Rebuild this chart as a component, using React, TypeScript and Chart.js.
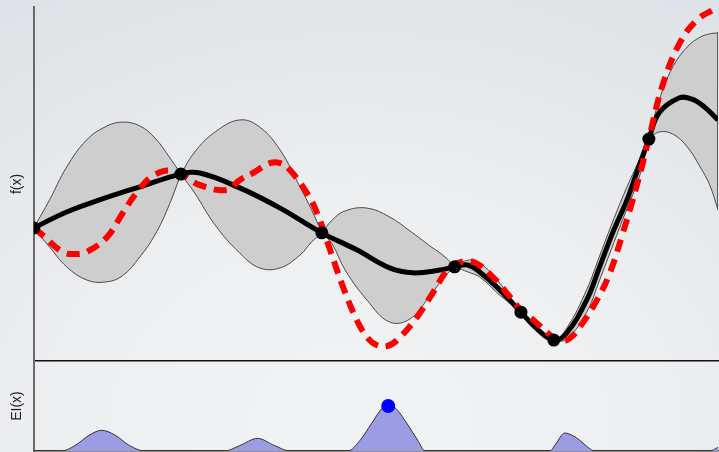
import React, { useEffect, useRef } from "react";
import { Chart, registerables } from "chart.js";

Chart.register(...registerables);

// Observations (black dots)
const obsX = [0, 2.15, 4.21, 6.15, 7.12, 7.6, 8.99];
const obsY = [3.76, 5.28, 3.62, 2.66, 1.38, 0.59, 6.27];

// GP posterior mean
const meanX = [0, 0.48, 0.96, 1.55, 2.15, 2.43, 3.01, 3.6, 4.21, 4.72, 5.2, 5.54, 5.94, 6.15, 6.34, 6.52, 6.81, 7.12, 7.37, 7.6, 7.79, 8.08, 8.27, 8.46, 8.67, 8.81, 8.99, 9.14, 9.43, 9.62, 9.8, 10];
const meanY = [3.76, 4.21, 4.55, 4.92, 5.28, 5.31, 4.89, 4.32, 3.62, 3.14, 2.63, 2.49, 2.57, 2.66, 2.71, 2.51, 2.01, 1.38, 0.88, 0.59, 0.79, 1.72, 2.66, 3.62, 4.55, 5.31, 6.27, 7.01, 7.43, 7.4, 7.18, 6.81];

// Confidence band
const bandX = [0, 0.23, 0.48, 0.77, 1.04, 1.29, 1.55, 1.77, 1.96, 2.15, 2.15, 2.35, 2.65, 3.01, 3.3, 3.6, 3.89, 4.06, 4.21, 4.21, 4.36, 4.55, 4.87, 5.2, 5.5, 5.79, 6.01, 6.15, 6.15, 6.35, 6.52, 6.81, 7.12, 7.37, 7.6, 7.79, 8.08, 8.27, 8.46, 8.65, 8.85, 8.99, 8.99, 9.14, 9.34, 9.55, 9.74, 9.88, 10];
const upperY = [3.76, 4.55, 5.48, 6.24, 6.61, 6.75, 6.64, 6.3, 5.82, 5.28, 5.28, 5.9, 6.47, 6.81, 6.61, 5.96, 4.92, 4.27, 3.62, 3.62, 3.98, 4.24, 4.32, 4.07, 3.67, 3.25, 2.94, 2.66, 2.66, 2.85, 2.77, 2.2, 1.38, 0.93, 0.59, 0.93, 2.01, 2.97, 3.93, 4.83, 5.68, 6.27, 6.27, 7.37, 8.31, 8.87, 9.15, 9.24, 9.27];
const lowerY = [3.76, 3.22, 2.66, 2.29, 2.23, 2.4, 2.94, 3.56, 4.32, 5.28, 5.28, 4.75, 3.84, 3.05, 2.63, 2.63, 2.99, 3.36, 3.62, 3.62, 3.31, 2.57, 1.72, 1.1, 1.19, 1.84, 2.4, 2.66, 2.66, 2.51, 2.37, 1.86, 1.38, 0.82, 0.59, 0.62, 1.38, 2.29, 3.25, 4.21, 5.2, 6.27, 6.27, 6.47, 6.41, 6.05, 5.48, 4.97, 4.27];

// True objective (red dashed)
const trueX = [0, 0.09, 0.42, 0.6, 0.77, 1.07, 1.3, 1.51, 1.74, 2.03, 2.43, 2.82, 3.01, 3.2, 3.45, 3.6, 3.74, 3.99, 4.14, 4.33, 4.52, 4.72, 4.88, 5.01, 5.16, 5.31, 5.6, 5.83, 6.04, 6.15, 6.42, 6.71, 6.96, 7.12, 7.3, 7.6, 7.72, 7.84, 7.98, 8.23, 8.42, 8.61, 8.74, 8.9, 9.01, 9.2, 9.44, 9.69, 9.93, 10];
const trueY = [3.76, 3.62, 3.08, 3.02, 3.08, 3.5, 4.18, 4.77, 5.23, 5.37, 4.97, 4.83, 5.11, 5.31, 5.59, 5.59, 5.4, 4.75, 4.18, 3.14, 2.09, 1.16, 0.65, 0.45, 0.42, 0.59, 1.24, 1.92, 2.57, 2.74, 2.8, 2.37, 1.81, 1.44, 1.16, 0.65, 0.56, 0.65, 0.96, 1.72, 2.49, 3.62, 4.46, 5.59, 6.45, 7.85, 8.98, 9.63, 9.92, 9.97];

// Expected improvement
const eiX = [0, 0.41, 0.6, 0.82, 0.99, 1.18, 1.4, 1.62, 2.79, 3.01, 3.27, 3.52, 3.74, 4.59, 4.77, 4.94, 5.1, 5.18, 5.28, 5.45, 5.61, 5.72, 7.54, 7.63, 7.76, 7.88, 7.98, 8.1, 8.2, 9.88, 10];
const eiY = [0, 0, 0.06, 0.18, 0.23, 0.18, 0.06, 0, 0, 0.06, 0.14, 0.06, 0, 0, 0.12, 0.31, 0.48, 0.5, 0.48, 0.31, 0.12, 0, 0, 0.08, 0.2, 0.17, 0.12, 0.04, 0, 0, 0.04];
const nextX = [5.18];
const nextY = [0.5];

const xy = (xs: number[], ys: number[]) => xs.map((x, i) => ({ x, y: ys[i] }));

const FONT = { family: "'Liberation Sans', Arial, Helvetica, sans-serif", size: 14 };

function yScale(max: number, label: string) {
  return {
    type: "linear" as const,
    min: 0,
    max,
    ticks: { display: false },
    grid: { display: false, drawTicks: false },
    border: { display: true, color: "#6a6a6a", width: 2 },
    title: { display: true, text: label, color: "#222", font: FONT, padding: { top: 4, bottom: 8 } },
  };
}

function xScale(color: string, width: number) {
  return {
    type: "linear" as const,
    min: 0,
    max: 10,
    ticks: { display: false },
    grid: { display: false, drawTicks: false },
    border: { display: true, color, width },
  };
}

export default function App() {
  const topRef = useRef<HTMLCanvasElement>(null);
  const botRef = useRef<HTMLCanvasElement>(null);

  useEffect(() => {
    const common = {
      responsive: false,
      animation: false as const,
      events: [] as any[],
      plugins: { legend: { display: false }, tooltip: { enabled: false } },
    };
    const top = new Chart(topRef.current!, {
      type: "line",
      data: {
        datasets: [
          { data: xy(obsX, obsY), showLine: false, pointRadius: 6.5, pointBackgroundColor: "#000", pointBorderWidth: 0, order: 0 },
          { data: xy(trueX, trueY), borderColor: "#ff0000", borderWidth: 6, borderDash: [13, 8], pointRadius: 0, tension: 0.4, fill: false, order: 1 },
          { data: xy(meanX, meanY), borderColor: "#000", borderWidth: 5, pointRadius: 0, tension: 0.4, fill: false, order: 2 },
          { data: xy(bandX, upperY), borderColor: "#4a4a4a", borderWidth: 1, pointRadius: 0, tension: 0.4, fill: "+1", backgroundColor: "#cecece", order: 5 },
          { data: xy(bandX, lowerY), borderColor: "#4a4a4a", borderWidth: 1, pointRadius: 0, tension: 0.4, fill: false, order: 4 },
          { data: [{ x: 10, y: upperY[upperY.length - 1] }, { x: 10, y: lowerY[lowerY.length - 1] }], borderColor: "#4a4a4a", borderWidth: 1, pointRadius: 0, fill: false, order: 3 },
        ],
      },
      options: {
        ...common,
        layout: { autoPadding: false, padding: { left: 5, top: 7, right: 1, bottom: 2 } },
        scales: { x: xScale("#111", 1.5), y: yScale(10, "f(x)") },
      } as any,
    });
    const bot = new Chart(botRef.current!, {
      type: "line",
      data: {
        datasets: [
          { data: xy(nextX, nextY), showLine: false, pointRadius: 7, pointBackgroundColor: "#0000ff", pointBorderWidth: 0, order: 0 },
          { data: xy(eiX, eiY), borderColor: "#333", borderWidth: 1, pointRadius: 0, cubicInterpolationMode: "monotone", fill: "origin", backgroundColor: "#9c9ce4", order: 1 },
        ],
      },
      options: {
        ...common,
        layout: { autoPadding: false, padding: { left: 5, top: 6, right: 1, bottom: 1 } },
        scales: { x: xScale("#333", 1.5), y: yScale(1, "EI(x)") },
      } as any,
    });
    return () => {
      top.destroy();
      bot.destroy();
    };
  }, []);

  return (
    <div
      style={{
        position: "fixed",
        left: 0,
        top: 0,
        width: 719,
        height: 452,
        overflow: "hidden",
        background: "radial-gradient(ellipse 90% 110% at 50% 95%, #f2f3f5 0%, #edeff1 45%, #dfe2e6 100%)",
      }}
    >
      <canvas ref={topRef} width={719} height={363} style={{ position: "absolute", left: 0, top: 0, width: 719, height: 363 }} />
      <canvas ref={botRef} width={719} height={97} style={{ position: "absolute", left: 0, top: 355, width: 719, height: 97 }} />
    </div>
  );
}
